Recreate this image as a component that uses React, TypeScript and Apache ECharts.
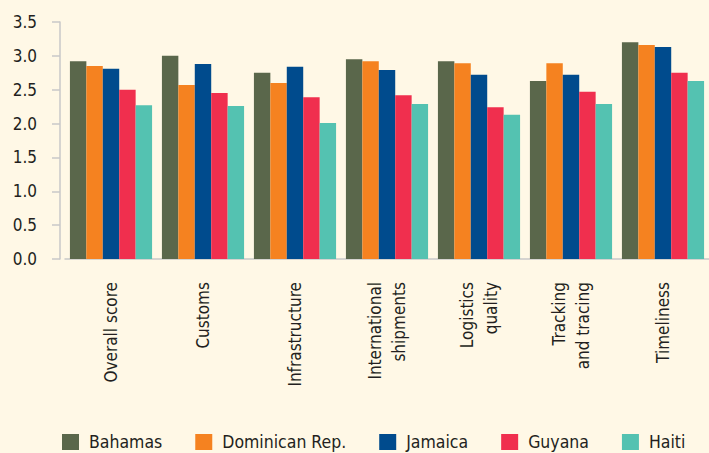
import React, { useEffect, useRef } from "react";
import * as echarts from "echarts";

const categories = [
  "Overall score",
  "Customs",
  "Infrastructure",
  "International\nshipments",
  "Logistics\nquality",
  "Tracking\nand tracing",
  "Timeliness",
];
const seriesNames = ["Bahamas", "Dominican Rep.", "Jamaica", "Guyana", "Haiti"];
const bahamas = [2.92, 3.0, 2.75, 2.95, 2.92, 2.63, 3.2];
const dominican = [2.85, 2.57, 2.6, 2.92, 2.89, 2.89, 3.16];
const jamaica = [2.81, 2.88, 2.84, 2.79, 2.72, 2.72, 3.13];
const guyana = [2.5, 2.45, 2.39, 2.42, 2.24, 2.47, 2.75];
const haiti = [2.27, 2.26, 2.01, 2.29, 2.13, 2.29, 2.63];
const colors = ["#5A674B", "#F58220", "#004B8D", "#F02F4E", "#54C2B1"];
const yTicks = { min: 0, max: 3.5, interval: 0.5 };

const FONT = "'DejaVu Sans Condensed', 'DejaVu Sans', sans-serif";
const TEXT = "#231F20";
const AXIS = "#C8C8C8";

export default function App() {
  const ref = useRef<HTMLDivElement>(null);
  useEffect(() => {
    if (!ref.current) return;
    const chart = echarts.init(ref.current, undefined, { renderer: "svg" });
    const values = [bahamas, dominican, jamaica, guyana, haiti];
    chart.setOption({
      animation: false,
      backgroundColor: "#FFF8E6",
      textStyle: { fontFamily: FONT },
      grid: { left: 65, top: 22, width: 652, height: 237 },
      legend: {
        left: 57,
        top: 428,
        itemWidth: 17,
        itemHeight: 16,
        itemGap: 33,
        icon: "rect",
        textStyle: {
          fontFamily: FONT,
          fontSize: 17.5,
          color: TEXT,
          padding: [0, 0, 0, 5],
        },
        data: seriesNames,
      },
      xAxis: {
        type: "category",
        data: categories,
        axisLine: { lineStyle: { color: AXIS, width: 1.5 } },
        axisTick: { show: false },
        axisLabel: {
          rotate: 90,
          margin: 23,
          fontFamily: FONT,
          fontSize: 17,
          lineHeight: 24,
          color: TEXT,
          interval: 0,
        },
      },
      yAxis: {
        type: "value",
        min: yTicks.min,
        max: yTicks.max,
        interval: yTicks.interval,
        offset: 5,
        axisLine: { show: true, lineStyle: { color: AXIS, width: 1.5 } },
        axisTick: { show: true, length: 8, lineStyle: { color: AXIS, width: 1.5 } },
        splitLine: { show: false },
        axisLabel: {
          margin: 23,
          fontFamily: FONT,
          fontSize: 17,
          color: TEXT,
          formatter: (v: number) => v.toFixed(1),
        },
      },
      series: seriesNames.map((name, i) => ({
        name,
        type: "bar",
        data: values[i],
        barGap: "0%",
        barCategoryGap: "10.7%",
        itemStyle: { color: colors[i] },
      })),
    });
    return () => chart.dispose();
  }, []);
  return (
    <div
      ref={ref}
      style={{ position: "fixed", left: 0, top: 0, width: 709, height: 453 }}
    />
  );
}
